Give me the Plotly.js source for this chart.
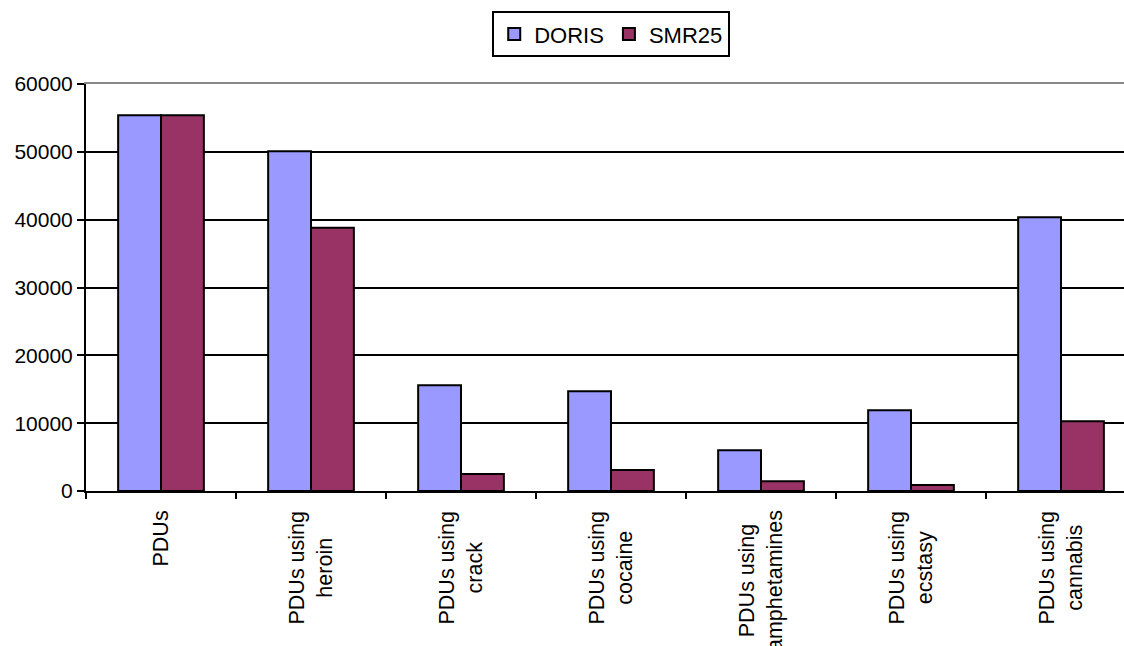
<!DOCTYPE html>
<html>
<head>
<meta charset="utf-8">
<script src="https://cdn.plot.ly/plotly-3.0.1.min.js"></script>
<style>
  html, body { margin: 0; padding: 0; background: #ffffff; }
  #chart { width: 1124px; height: 646px; }
</style>
</head>
<body>
<div id="chart"></div>
<script>
// Problem drug users: DORIS estimates vs SMR25 counts
const categories = ["PDUs", "heroin", "crack", "cocaine", "amphetamines", "ecstasy", "cannabis"];
const categoryLabels = [
  "PDUs",
  "PDUs using<br>heroin",
  "PDUs using<br>crack",
  "PDUs using<br>cocaine",
  "PDUs using<br>amphetamines",
  "PDUs using<br>ecstasy",
  "PDUs using<br>cannabis"
];
const dorisValues = [55400, 50100, 15600, 14700, 6000, 11900, 40350];
const smr25Values = [55400, 38800, 2500, 3100, 1450, 900, 10300];
const yTicks = [0, 10000, 20000, 30000, 40000, 50000, 60000];

const FONT = "Liberation Sans, Arial, sans-serif";

const traces = [
  {
    type: "bar", name: "DORIS", x: categories, y: dorisValues,
    marker: { color: "#9999FF", line: { color: "#000000", width: 2 } },
    hoverinfo: "y"
  },
  {
    type: "bar", name: "SMR25", x: categories, y: smr25Values,
    marker: { color: "#993366", line: { color: "#000000", width: 2 } },
    hoverinfo: "y"
  },
  // invisible trace carrying the grey top frame line
  {
    type: "scatter", x: categories, y: smr25Values, xaxis: "x2",
    mode: "none", showlegend: false, hoverinfo: "skip"
  }
];

// Category names drawn under the axis, rotated, with centred lines
const labelAnnotations = categories.map((c, i) => ({
  x: c, xref: "x", y: -0.043, yref: "paper",
  xanchor: "center", yanchor: "top",
  text: categoryLabels[i], textangle: -90, align: "center",
  showarrow: false,
  font: { family: FONT, size: 21.5, color: "#000000" }
}));

const layout = {
  width: 1124, height: 646,
  margin: { l: 86, r: 0, t: 84, b: 155, pad: 0 },
  paper_bgcolor: "#ffffff", plot_bgcolor: "#ffffff",
  font: { family: FONT, size: 21, color: "#000000" },
  barmode: "group",
  bargap: 0.4286, bargroupgap: 0,
  showlegend: true,
  legend: {
    orientation: "h",
    x: 0.506, xanchor: "center", xref: "paper",
    y: 1.179, yanchor: "top",
    bordercolor: "#000000", borderwidth: 2,
    bgcolor: "#ffffff",
    font: { family: FONT, size: 22, color: "#000000" },
    itemclick: false
  },
  xaxis: {
    type: "category",
    categoryorder: "array", categoryarray: categories,
    range: [-0.5, 6.42],
    showticklabels: false,
    ticks: "outside", tickson: "boundaries", ticklen: 6, tickwidth: 2, tickcolor: "#000000",
    showline: true, linecolor: "#000000", linewidth: 2,
    showgrid: false, zeroline: false, fixedrange: true
  },
  xaxis2: {
    type: "category", overlaying: "x", side: "top",
    matches: "x", showticklabels: false, ticks: "",
    showline: true, linecolor: "#888888", linewidth: 2,
    showgrid: false, zeroline: false
  },
  yaxis: {
    range: [0, 60000],
    tickvals: yTicks, ticktext: yTicks.map(String),
    ticks: "outside", ticklen: 7, tickwidth: 2, tickcolor: "#000000",
    tickfont: { family: FONT, size: 21, color: "#000000" },
    showline: true, linecolor: "#000000", linewidth: 2,
    showgrid: true, gridcolor: "#000000", gridwidth: 2,
    zeroline: false, fixedrange: true
  },
  annotations: labelAnnotations
};

Plotly.newPlot("chart", traces, layout, { staticPlot: true, displayModeBar: false });
</script>
</body>
</html>
